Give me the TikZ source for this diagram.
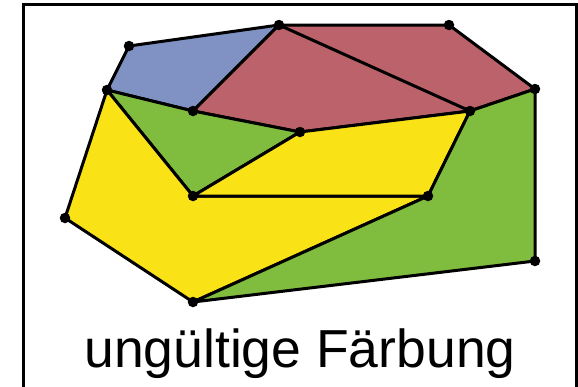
\documentclass[tikz,border=0pt]{standalone}
\usepackage{fontspec}
\setmainfont{Liberation Sans}
\definecolor{cblue}{HTML}{7F92C3}
\definecolor{cred}{HTML}{BC626A}
\definecolor{cgreen}{HTML}{80BD3E}
\definecolor{cyellow}{HTML}{F9E317}
\tikzset{
  face/.style={draw=black, line width=3pt, line join=round},
  vtx/.style={circle, fill=black, inner sep=0pt, minimum size=10.5pt},
}
\begin{document}
\begin{tikzpicture}[x=1pt,y=-1pt]
\useasboundingbox (0,0) rectangle (578,386);
\draw[line width=3pt] (23,389) -- (23,4.5) -- (576,4.5) -- (576,389);
% vertices
\coordinate (A) at (129,46);
\coordinate (B) at (279,25);
\coordinate (C) at (449,25);
\coordinate (D) at (535,89);
\coordinate (E) at (470,111);
\coordinate (F) at (300,132);
\coordinate (G) at (193,111);
\coordinate (H) at (107,90);
\coordinate (I) at (193,196);
\coordinate (J) at (428,196);
\coordinate (K) at (65,218);
\coordinate (L) at (193,302);
\coordinate (M) at (535,261);
% faces
\filldraw[face, fill=cblue] (H) -- (A) -- (B) -- (G) -- cycle;
\filldraw[face, fill=cred] (B) -- (C) -- (D) -- (E) -- (F) -- (G) -- cycle;
\filldraw[face, fill=cgreen] (H) -- (G) -- (F) -- (I) -- cycle;
\filldraw[face, fill=cyellow] (H) -- (I) -- (J) -- (L) -- (K) -- cycle;
\filldraw[face, fill=cyellow] (I) -- (F) -- (E) -- (J) -- cycle;
\filldraw[face, fill=cgreen] (D) -- (M) -- (L) -- (J) -- (E) -- cycle;
\draw[face] (B) -- (E);
% dots
\foreach \p in {A,B,C,D,E,F,G,H,I,J,K,L,M}
  \node[vtx] (v\p) at (\p) {};
\node[font=\fontsize{53.5}{58}\selectfont, anchor=base] (lbl) at (300,367.5) {ungültige Färbung};
\end{tikzpicture}
\end{document}
